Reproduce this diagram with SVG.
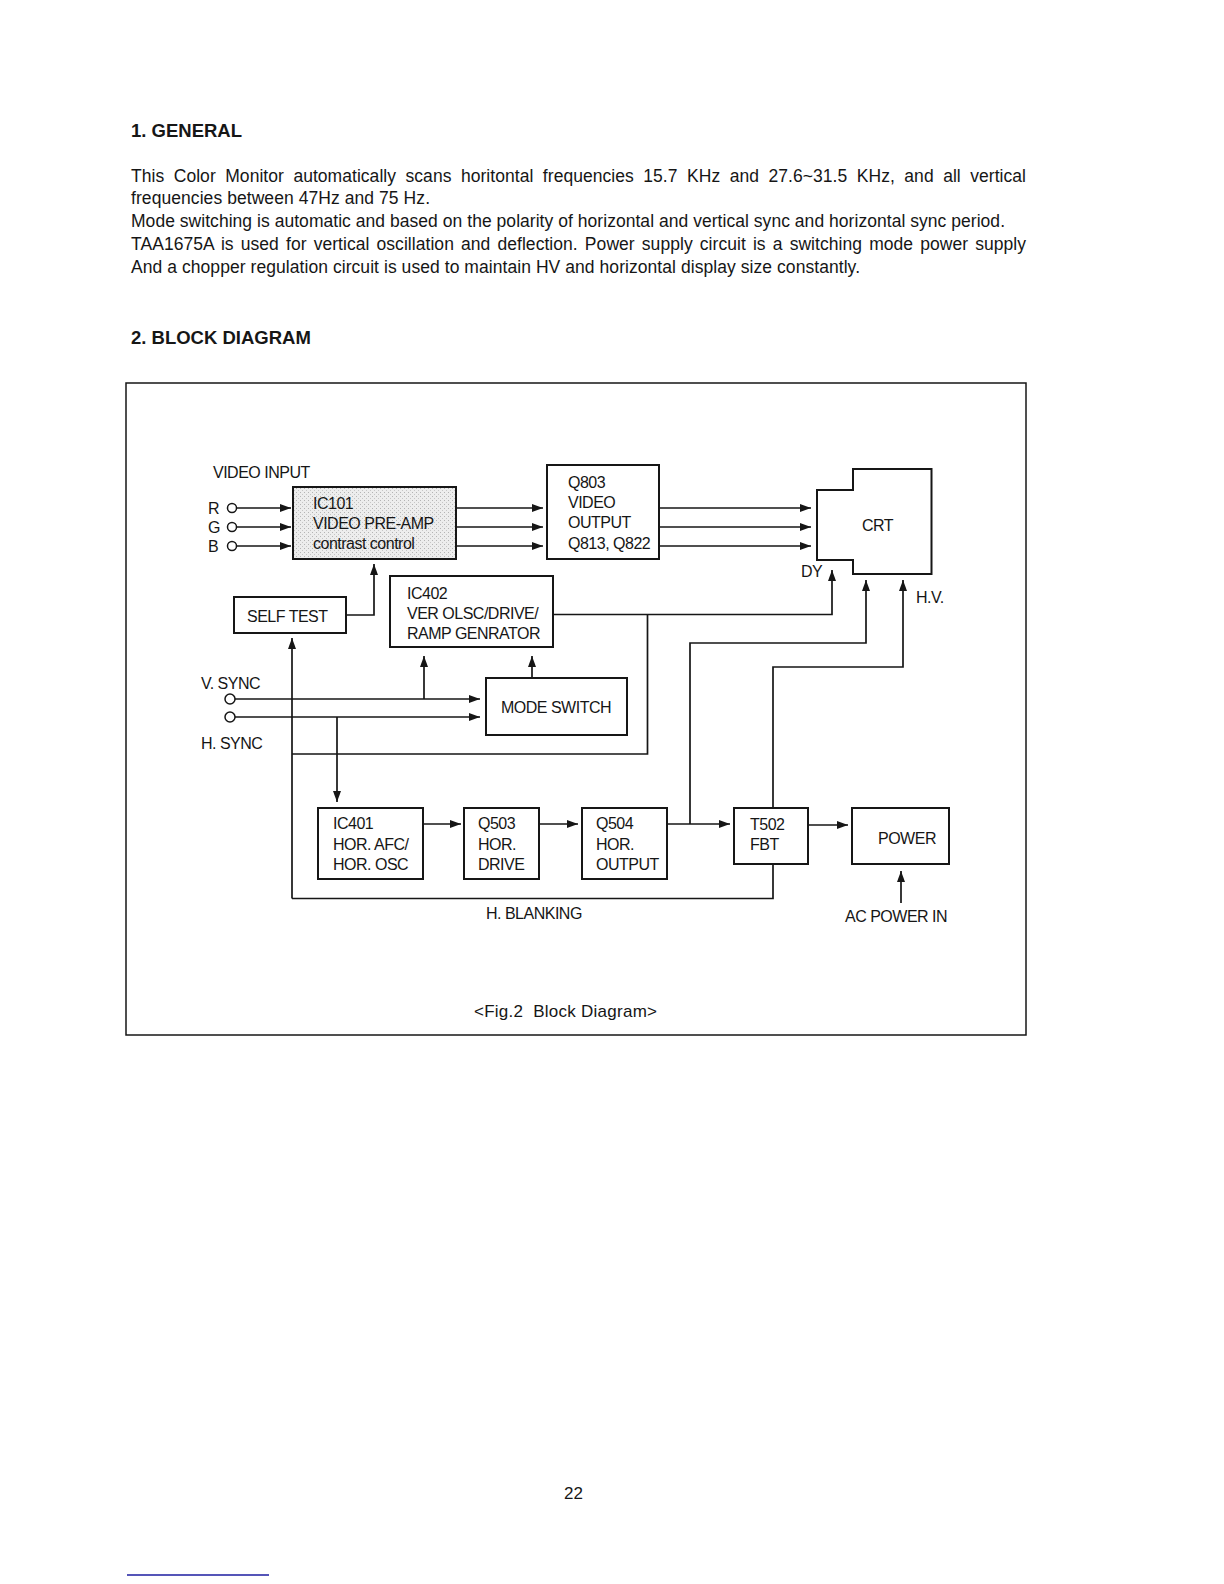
<svg xmlns="http://www.w3.org/2000/svg" width="1224" height="1584" viewBox="0 0 1224 1584">
<style>
  text { font-family: "Liberation Sans", Arial, sans-serif; fill: #161616; }
  .h { font-size: 18.5px; font-weight: bold; }
  .p { font-size: 17.5px; }
  .d { font-size: 16px; letter-spacing: -0.5px; }
  .box { fill: #fff; stroke: #161616; stroke-width: 2; }
  .ln { fill: none; stroke: #161616; stroke-width: 1.7; }
  .arr { fill: none; stroke: #161616; stroke-width: 1.7; marker-end: url(#ah); }
  .term { fill: #fff; stroke: #161616; stroke-width: 1.5; }
</style>
<defs>
  <marker id="ah" markerUnits="userSpaceOnUse" markerWidth="12" markerHeight="9" refX="11" refY="4" orient="auto">
    <path d="M0,0 L11,4 L0,8 Z" fill="#161616"/>
  </marker>
  <pattern id="stip" width="4" height="4" patternUnits="userSpaceOnUse">
    <rect width="4" height="4" fill="#ededed"/>
    <rect x="0" y="0" width="1" height="1" fill="#b4b4b4"/>
    <rect x="2" y="2" width="1" height="1" fill="#c6c6c6"/>
  </pattern>
</defs>
<rect width="1224" height="1584" fill="#fff"/>

<!-- Header text -->
<text class="h" x="131" y="136.5">1. GENERAL</text>
<text class="p" x="131" y="182" textLength="895" lengthAdjust="spacing" style="word-spacing:4.6px">This Color Monitor automatically scans horitontal frequencies 15.7 KHz and 27.6~31.5 KHz, and all vertical</text>
<text class="p" x="131" y="204" textLength="299" lengthAdjust="spacing">frequencies between 47Hz and 75 Hz.</text>
<text class="p" x="131" y="227" textLength="874" lengthAdjust="spacing">Mode switching is automatic and based on the polarity of horizontal and vertical sync and horizontal sync period.</text>
<text class="p" x="131" y="250" textLength="895" lengthAdjust="spacing" style="word-spacing:2.2px">TAA1675A is used for vertical oscillation and deflection. Power supply circuit is a switching mode power supply</text>
<text class="p" x="131" y="273" textLength="729" lengthAdjust="spacing">And a chopper regulation circuit is used to maintain HV and horizontal display size constantly.</text>
<text class="h" x="131" y="344">2. BLOCK DIAGRAM</text>

<!-- Frame -->
<rect x="126" y="383" width="900" height="652" fill="none" stroke="#161616" stroke-width="1.5"/>

<!-- Connectors -->
<g id="connectors">
  <!-- RGB inputs -->
  <path class="arr" d="M236.5,508 H291"/>
  <path class="arr" d="M236.5,527 H291"/>
  <path class="arr" d="M236.5,546 H291"/>
  <!-- IC101 to Q803 -->
  <path class="arr" d="M456,508 H543"/>
  <path class="arr" d="M456,527 H543"/>
  <path class="arr" d="M456,546 H543"/>
  <!-- Q803 to CRT -->
  <path class="arr" d="M659,508 H811"/>
  <path class="arr" d="M659,527 H811"/>
  <path class="arr" d="M659,546 H811"/>
  <!-- SELF TEST to IC101 -->
  <path class="arr" d="M346,615 H374 V564"/>
  <!-- IC402 to DY -->
  <path class="arr" d="M553,614.5 H832 V570"/>
  <!-- vertical feedback to self test line -->
  <path class="ln" d="M647.5,614.5 V754 H292"/>
  <!-- SELF TEST input -->
  <path class="arr" d="M292,898.5 V638"/>
  <!-- sync lines -->
  <path class="arr" d="M235,699 H480"/>
  <path class="arr" d="M235,717 H480"/>
  <path class="arr" d="M424,699 V656"/>
  <path class="arr" d="M532,678 V656"/>
  <path class="arr" d="M337,717 V802"/>
  <!-- horizontal chain -->
  <path class="arr" d="M423,824 H461"/>
  <path class="arr" d="M539,824 H578"/>
  <path class="arr" d="M667,824 H730"/>
  <path class="arr" d="M690,824 V643 H866 V580"/>
  <path class="arr" d="M773,808 V667 H903 V580"/>
  <path class="ln" d="M773,864 V898.5 H292"/>
  <path class="arr" d="M808,825 H848"/>
  <path class="arr" d="M901,903 V871"/>
  <!-- input terminals -->
  <circle class="term" cx="232" cy="508" r="4.5"/>
  <circle class="term" cx="232" cy="527" r="4.5"/>
  <circle class="term" cx="232" cy="546" r="4.5"/>
  <circle class="term" cx="230" cy="699" r="5"/>
  <circle class="term" cx="230" cy="717" r="5"/>
</g>

<!-- Nodes -->
<g id="ic101">
  <rect x="293" y="487" width="163" height="72" fill="url(#stip)" stroke="#161616" stroke-width="2"/>
  <text class="d" x="313" y="509">IC101</text>
  <text class="d" x="313" y="529">VIDEO PRE-AMP</text>
  <text class="d" x="313" y="549">contrast control</text>
</g>
<g id="q803">
  <rect class="box" x="547" y="465" width="112" height="94"/>
  <text class="d" x="568" y="488">Q803</text>
  <text class="d" x="568" y="508">VIDEO</text>
  <text class="d" x="568" y="528">OUTPUT</text>
  <text class="d" x="568" y="549">Q813, Q822</text>
</g>
<g id="crt">
  <path class="box" d="M853,469 H931.5 V574 H853 V560 H817 V490 H853 Z"/>
  <text class="d" x="862" y="531">CRT</text>
</g>
<g id="selftest">
  <rect class="box" x="234" y="597" width="112" height="36"/>
  <text class="d" x="247" y="622">SELF TEST</text>
</g>
<g id="ic402">
  <rect class="box" x="390" y="576" width="163" height="71"/>
  <text class="d" x="407" y="599">IC402</text>
  <text class="d" x="407" y="619">VER OLSC/DRIVE/</text>
  <text class="d" x="407" y="639">RAMP GENRATOR</text>
</g>
<g id="modeswitch">
  <rect class="box" x="486" y="678" width="141" height="57"/>
  <text class="d" x="501" y="713">MODE SWITCH</text>
</g>
<g id="ic401">
  <rect class="box" x="318" y="808" width="105" height="71"/>
  <text class="d" x="333" y="829">IC401</text>
  <text class="d" x="333" y="850">HOR. AFC/</text>
  <text class="d" x="333" y="870">HOR. OSC</text>
</g>
<g id="q503">
  <rect class="box" x="464" y="808" width="75" height="71"/>
  <text class="d" x="478" y="829">Q503</text>
  <text class="d" x="478" y="850">HOR.</text>
  <text class="d" x="478" y="870">DRIVE</text>
</g>
<g id="q504">
  <rect class="box" x="582" y="808" width="85" height="71"/>
  <text class="d" x="596" y="829">Q504</text>
  <text class="d" x="596" y="850">HOR.</text>
  <text class="d" x="596" y="870">OUTPUT</text>
</g>
<g id="t502">
  <rect class="box" x="734" y="808" width="74" height="56"/>
  <text class="d" x="750" y="830">T502</text>
  <text class="d" x="750" y="850">FBT</text>
</g>
<g id="power">
  <rect class="box" x="852" y="808" width="97" height="56"/>
  <text class="d" x="878" y="844">POWER</text>
</g>

<!-- Labels -->
<g id="labels">
  <text class="d" x="213" y="478">VIDEO INPUT</text>
  <text class="d" x="208" y="514">R</text>
  <text class="d" x="208" y="533">G</text>
  <text class="d" x="208" y="552">B</text>
  <text class="d" x="801" y="577">DY</text>
  <text class="d" x="916" y="603">H.V.</text>
  <text class="d" x="201" y="689">V. SYNC</text>
  <text class="d" x="201" y="749">H. SYNC</text>
  <text class="d" x="486" y="919">H. BLANKING</text>
  <text class="d" x="845" y="922">AC POWER IN</text>
  <text x="474" y="1017" textLength="183" lengthAdjust="spacing" style="font-size:17px;letter-spacing:0">&lt;Fig.2&#160; Block Diagram&gt;</text>
</g>

<text class="p" x="564" y="1499" style="font-size:17px">22</text>
<line x1="127" y1="1575" x2="269" y2="1575" stroke="#1c1ca0" stroke-width="1.5"/>
</svg>
